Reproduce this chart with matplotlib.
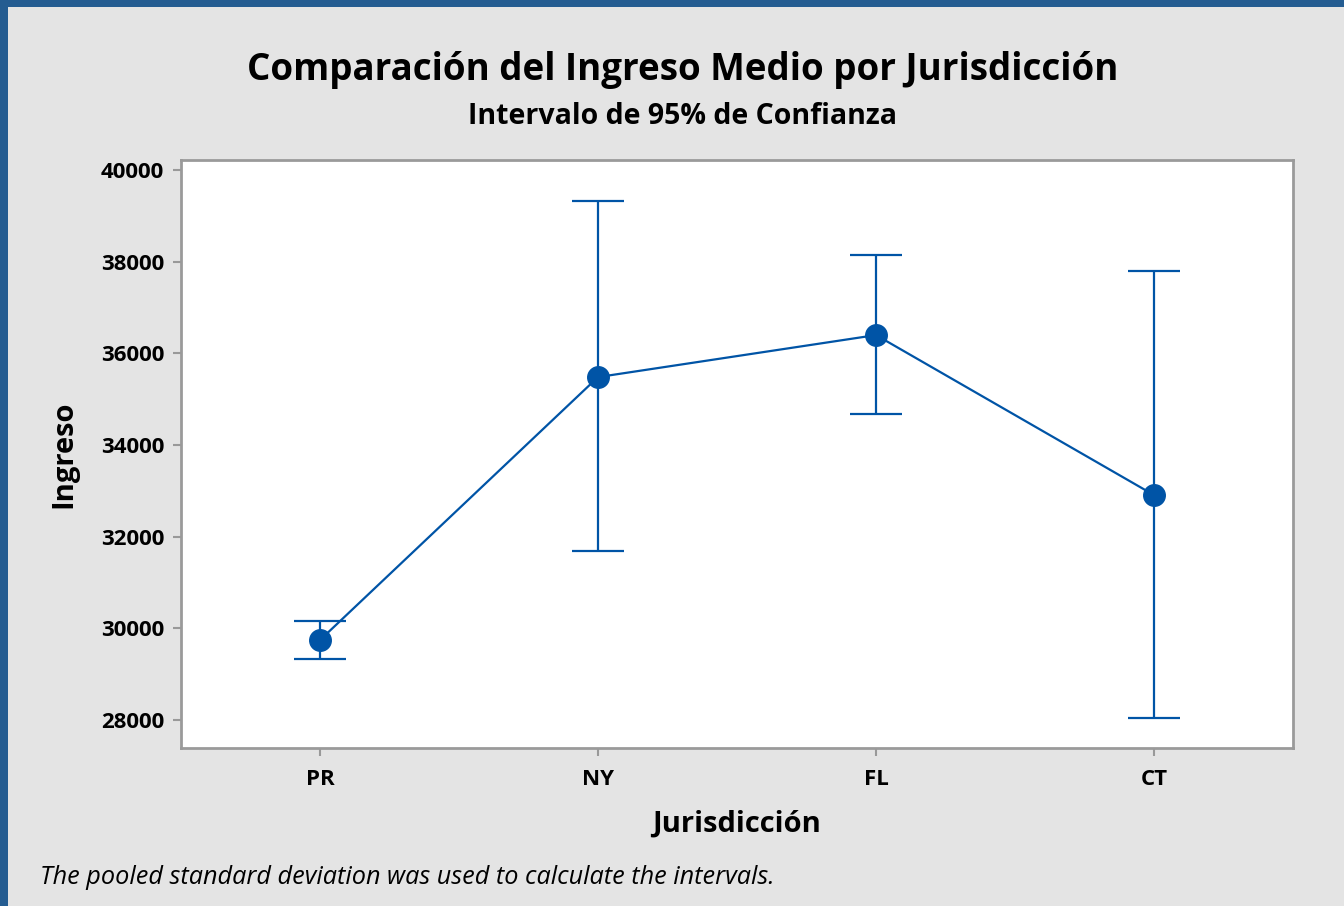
import matplotlib
matplotlib.use("Agg")
import matplotlib.pyplot as plt
from matplotlib.patches import Rectangle

# values
categories = ["PR", "NY", "FL", "CT"]
means = [29745, 35483, 36400, 32909]
lower = [29330, 31687, 34676, 28043]
upper = [30159, 39324, 38145, 37796]
yticks = [28000, 30000, 32000, 34000, 36000, 38000, 40000]

BLUE = "#0054a6"
BG = "#e4e4e4"

plt.rcParams["font.family"] = ["Open Sans", "DejaVu Sans"]

fig = plt.figure(figsize=(13.44, 9.06), dpi=100, facecolor=BG)
ax = fig.add_axes([181 / 1344, 1 - 748 / 906, 1112 / 1344, 588 / 906])
ax.set_facecolor("white")

x = list(range(len(categories)))
err = [[m - lo for m, lo in zip(means, lower)], [up - m for m, up in zip(means, upper)]]
ax.errorbar(x, means, yerr=err, fmt="none", ecolor=BLUE, elinewidth=1.6,
            capsize=19, capthick=1.6)
ax.plot(x, means, color=BLUE, linewidth=1.6, marker="o", markersize=15.5,
        markerfacecolor=BLUE, markeredgecolor=BLUE)

ax.set_xlim(-0.5, 3.5)
ax.set_ylim(27390, 40220)
ax.set_xticks(x)
ax.set_xticklabels(categories)
ax.set_yticks(yticks)
ax.set_yticklabels([str(v) for v in yticks])
for lbl in ax.get_xticklabels() + ax.get_yticklabels():
    lbl.set_fontweight("bold")
    lbl.set_fontsize(16)
ax.tick_params(axis="both", color="#999999", length=6, width=1.5, pad=6)
ax.tick_params(axis="x", pad=9)

for sp in ax.spines.values():
    sp.set_color("#9a9a9a")
    sp.set_linewidth(2)

ax.set_xlabel("Jurisdicción", fontsize=21, fontweight="bold", labelpad=14)
ax.set_ylabel("Ingreso", fontsize=21, fontweight="bold", labelpad=16)

fig.text(683 / 1344, 1 - 70 / 906, "Comparación del Ingreso Medio por Jurisdicción",
         ha="center", va="center", fontsize=26.5, fontweight="bold")
fig.text(683 / 1344, 1 - 117 / 906, "Intervalo de 95% de Confianza",
         ha="center", va="center", fontsize=20.5, fontweight="bold")
fig.text(40 / 1344, 1 - 877 / 906,
         "The pooled standard deviation was used to calculate the intervals.",
         ha="left", va="center", fontsize=18.2, style="italic")

# blue frame on the left and top edges
fig.patches.append(Rectangle((0, 0), 8 / 1344, 1, transform=fig.transFigure,
                             facecolor="#245c91", edgecolor="none"))
fig.patches.append(Rectangle((0, 1 - 7 / 906), 1, 7 / 906, transform=fig.transFigure,
                             facecolor="#245c91", edgecolor="none"))

fig.savefig("out.png", dpi=100, facecolor=BG)
